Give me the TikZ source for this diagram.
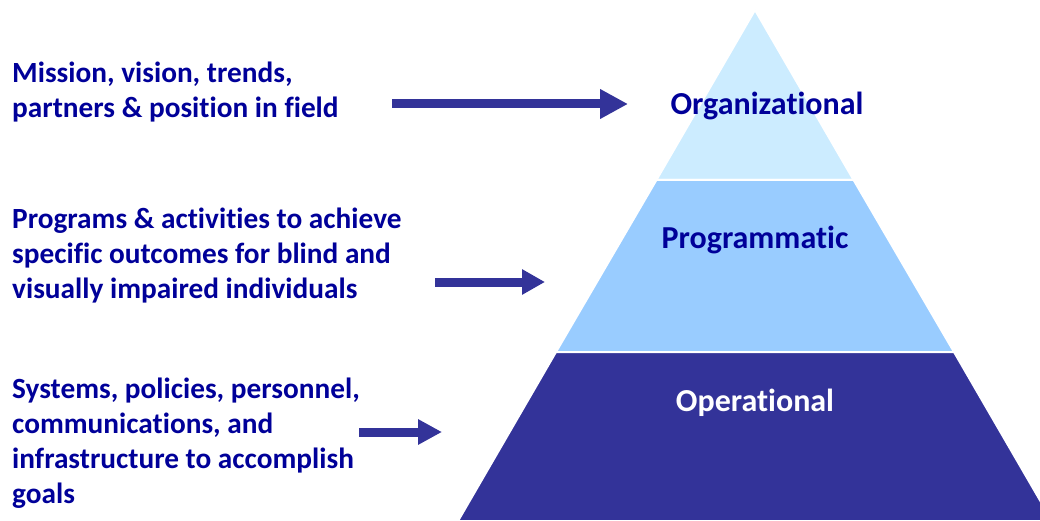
\documentclass[tikz,border=0pt]{standalone}
\usepackage{fontspec}
\setmainfont{Carlito}[Ligatures=NoCommon]
\usetikzlibrary{arrows.meta}

\definecolor{navytext}{HTML}{000099}
\definecolor{deepblue}{HTML}{333399}
\definecolor{paleblue}{HTML}{CCECFF}
\definecolor{skyblue}{HTML}{99CCFF}

\tikzset{
  layer/.style={draw=white, line width=2pt, line join=round},
  tier/.style={font=\bfseries\fontsize{32}{38}\selectfont, inner sep=0pt, anchor=base},
  note/.style={font=\bfseries\fontsize{29.3}{35}\selectfont, text=navytext,
    align=left, inner sep=0pt, anchor=north west},
  pointer/.style={deepblue, line width=9pt}
}

\begin{document}
\begin{tikzpicture}[x=1pt,y=-1pt]
  \useasboundingbox (0,0) rectangle (1040,521);

  % the three layers of the pyramid
  \begin{scope}
    \clip (0,0) rectangle (1040,521);
    \fill [layer, fill=paleblue] (755,10) -- (656.4,180) -- (853.6,180) -- cycle;
    \fill [layer, fill=skyblue] (656.4,180) -- (556,352) -- (954,352) -- (853.6,180) -- cycle;
    \fill [layer, fill=deepblue] (556,352) -- (458,521) -- (1052,521) -- (954,352) -- cycle;
  \end{scope}
  \draw [layer] (656.4,180) -- (853.6,180);
  \draw [layer] (556,352) -- (954,352);

  \node [tier, text=navytext] (org) at (767,115) {Organizational};
  \node [tier, text=navytext] (prog) at (755,248) {Programmatic};
  \node [tier, text=white] (oper) at (755,411) {Operational};

  % descriptions on the left
  \node [note] (orgtext) at (12,62) {Mission, vision, trends,\\partners \& position in field};
  \node [note] (progtext) at (12,208) {Programs \& activities to achieve\\specific outcomes for blind and\\visually impaired individuals};
  \node [note] (opertext) at (12,378) {Systems, policies, personnel,\\communications, and\\infrastructure to accomplish\\goals};

  % arrows into the layers
  \coordinate (orgfrom) at (392,104);
  \coordinate (orgto) at (628,104);
  \coordinate (progfrom) at (435,282);
  \coordinate (progto) at (545,282);
  \coordinate (operfrom) at (359,432);
  \coordinate (operto) at (442,432);
  \draw [pointer, -{Triangle[length=28pt,width=28pt]}] (orgfrom) -- (orgto);
  \draw [pointer, -{Triangle[length=23pt,width=24pt]}] (progfrom) -- (progto);
  \draw [pointer, -{Triangle[length=24pt,width=24pt]}] (operfrom) -- (operto);
\end{tikzpicture}
\end{document}
